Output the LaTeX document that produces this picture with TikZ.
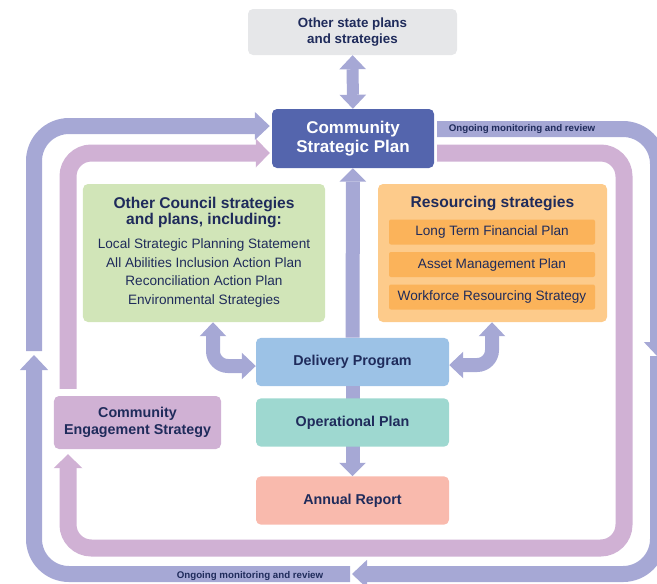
\documentclass[tikz,border=0pt]{standalone}
\usepackage{fontspec}
\setmainfont{Liberation Sans}
\usetikzlibrary{arrows.meta,calc}

\definecolor{ink}{HTML}{1F2B5B}
\definecolor{stategrey}{HTML}{E6E7E9}
\definecolor{cspblue}{HTML}{5465AD}
\definecolor{loopblue}{HTML}{A6A8D5}
\definecolor{looppink}{HTML}{D0B1D4}
\definecolor{councilgreen}{HTML}{D1E5B8}
\definecolor{reslight}{HTML}{FDCB8B}
\definecolor{resdark}{HTML}{FBB35A}
\definecolor{delblue}{HTML}{9CC2E6}
\definecolor{opteal}{HTML}{9ED8D0}
\definecolor{annualred}{HTML}{F9BAAD}

\newcommand{\headfont}{\bfseries\fontsize{13.3}{14.5}\selectfont}
\newcommand{\listfont}{\fontsize{11.6}{15.9}\selectfont}
\newcommand{\stagefont}{\bfseries\fontsize{12.2}{14.5}\selectfont}

\tikzset{
  box/.style={rounded corners=1.5mm, inner sep=0pt, align=center, text=ink},
  subbox/.style={box, fill=resdark, rounded corners=0.6mm, minimum width=6.18cm, minimum height=0.75cm, font=\listfont},
  stage/.style={box, minimum width=5.79cm, minimum height=1.45cm, font=\stagefont},
  heading/.style={align=center, text=ink, inner sep=0pt, font=\headfont},
  listing/.style={align=center, text=ink, inner sep=0pt, font=\listfont},
  monitor/.style={text=ink, inner sep=0pt, font=\bfseries\fontsize{8.3}{9}\selectfont},
  % wide bands of the two review loops
  reviewloop/.style={draw=loopblue, line width=0.48cm, rounded corners=1.05cm,
    -{Triangle[length=0.45cm, width=0.85cm, line width=0pt]}},
  engageloop/.style={draw=looppink, line width=0.51cm, rounded corners=0.7cm,
    -{Triangle[length=0.42cm, width=0.87cm, line width=0pt]}},
  link/.style={draw=loopblue, line width=0.42cm,
    -{Triangle[length=0.4cm, width=0.8cm, line width=0pt]}},
  twoway/.style={link, {Triangle[length=0.42cm, width=0.8cm, line width=0pt]}-{Triangle[length=0.42cm, width=0.8cm, line width=0pt]}},
}

\begin{document}
\begin{tikzpicture}[x=0.03cm, y=-0.03cm]
\useasboundingbox (0,0) rectangle (657,583);
\clip (0,0) rectangle (657,583);

% plans
\node[box, fill=stategrey, minimum width=6.27cm, minimum height=1.38cm,
  font=\bfseries\fontsize{11.4}{13.6}\selectfont] (state) at (352.5,32) {Other state plans\\and strategies};
\node[box, fill=cspblue, text=white, minimum width=4.86cm, minimum height=1.77cm,
  font=\bfseries\fontsize{14.5}{16.2}\selectfont] (csp) at (353,138.5) {Community\\Strategic Plan};

\node[box, fill=councilgreen, minimum width=7.26cm, minimum height=4.14cm] (council) at (204,253) {};
\node[heading] (council-title) at (204,212.5) {Other Council strategies\\and plans, including:};
\node[listing] (council-list) at (204,273) {Local Strategic Planning Statement\\All Abilities Inclusion Action Plan\\Reconciliation Action Plan\\Environmental Strategies};

\node[box, fill=reslight, minimum width=6.87cm, minimum height=4.14cm] (resourcing) at (492.5,253) {};
\node[heading] (res-title) at (492.5,203) {Resourcing strategies};
\node[subbox] (ltfp) at (492,232) {Long Term Financial Plan};
\node[subbox] (amp) at (492,264.5) {Asset Management Plan};
\node[subbox] (wrs) at (492,297) {Workforce Resourcing Strategy};

\node[stage, fill=delblue] (delivery) at (352.5,362) {Delivery Program};
\node[stage, fill=annualred] (annual) at (352.5,500.5) {Annual Report};
\draw[link] (delivery) -- (annual);
\node[stage, fill=opteal] (operational) at (352.5,422.5) {Operational Plan};

\node[box, fill=looppink, minimum width=5.01cm, minimum height=1.59cm,
  font=\stagefont] (ces) at (137.5,422.5) {Community\\Engagement Strategy};

% links between plans
\draw[twoway, line width=0.36cm] (state) -- (csp);
\draw[link] (delivery) -- (csp);
\draw[twoway, rounded corners=0.45cm] (213,0 |- council.south) -- (213,366) -- (delivery.west |- 0,366);
\draw[twoway, rounded corners=0.45cm] (492,0 |- resourcing.south) -- (492,365) -- (delivery.east |- 0,365);

% outer loop: ongoing monitoring and review
\draw[reviewloop] ($(csp.east |- 0,129)+(3,0)$) -- (658,129) -- (658,357);
\draw[reviewloop] (658,356) -- (658,574) -- (352,574);
\draw[reviewloop] (350,574) -- (34,574) -- (34,355);
\draw[reviewloop] (34,351) -- (34,126) -- ($(csp.west |- 0,126)+(-2,0)$);
\node[monitor] (mon-top) at (522,129) {Ongoing monitoring and review};
\node[monitor] (mon-bottom) at (250,576) {Ongoing monitoring and review};

% inner loop through community engagement
\draw[engageloop] ($(csp.east |- 0,153)+(3,0)$) -- (624,153) -- (624,548) -- (68,548) -- ($(ces.south -| 68,0)+(0,5)$);
\draw[engageloop] ($(ces.north -| 68,0)+(0,-7)$) -- (68,153) -- ($(csp.west |- 0,153)+(-2,0)$);
\end{tikzpicture}
\end{document}
